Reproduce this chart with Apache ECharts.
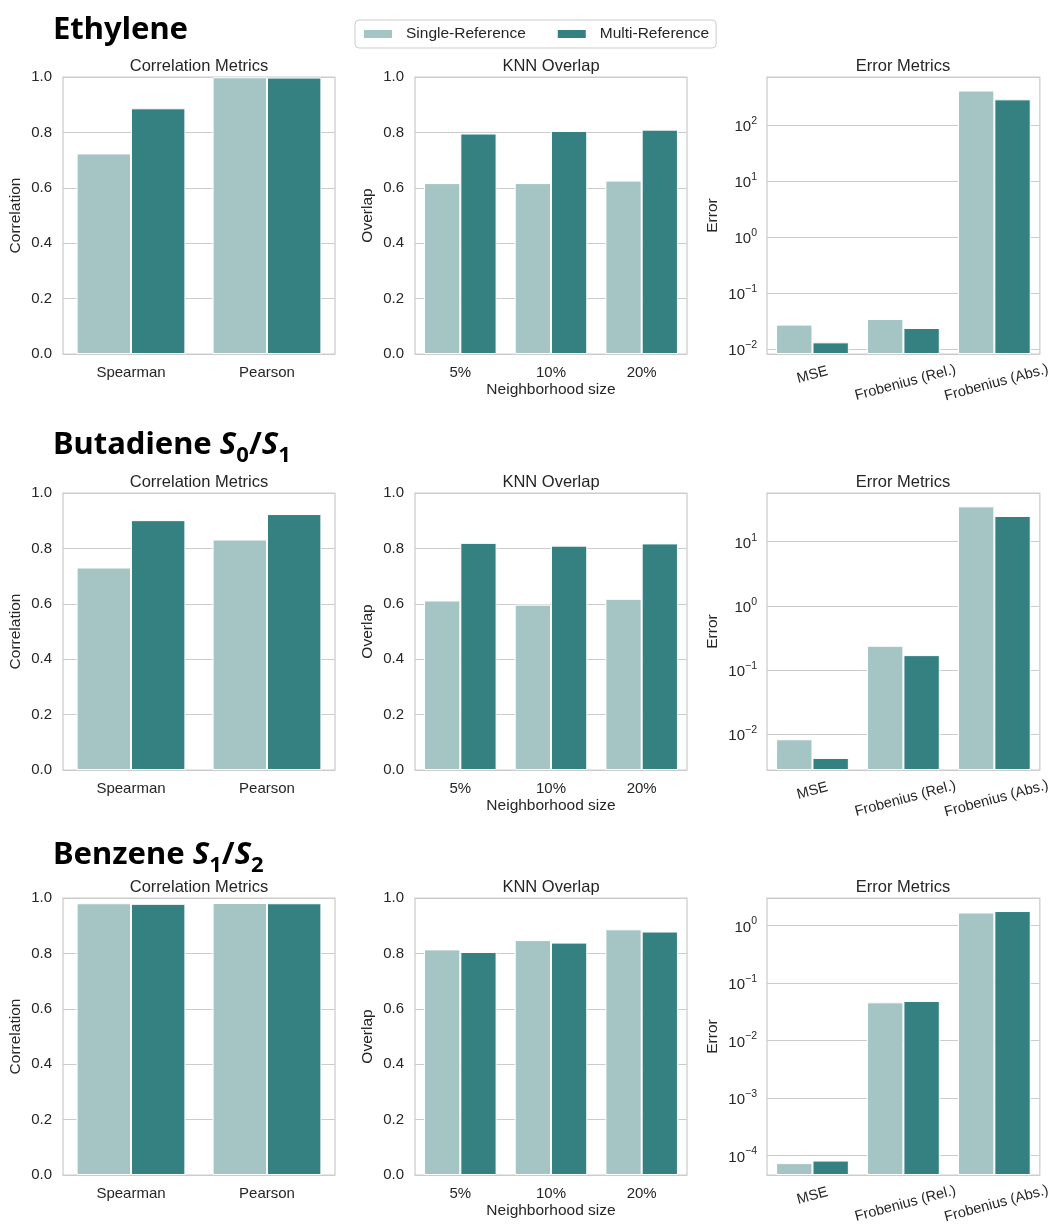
<!DOCTYPE html>
<html>
<head>
<meta charset="utf-8">
<script src="https://cdn.jsdelivr.net/npm/echarts@6/dist/echarts.min.js"></script>
<style>
  html, body { margin: 0; padding: 0; background: #fff; }
  #chart { width: 1053px; height: 1228px; }
</style>
</head>
<body>
<div id="chart"></div>
<script>
const seriesNames = ["Single-Reference", "Multi-Reference"];
const corrCategories = ["Spearman", "Pearson"];
const knnCategories = ["5%", "10%", "20%"];
const errCategories = ["MSE", "Frobenius (Rel.)", "Frobenius (Abs.)"];

// Ethylene
const ethCorrSingle = [0.724, 0.999];
const ethCorrMulti = [0.887, 0.998];
const ethKnnSingle = [0.617, 0.617, 0.626];
const ethKnnMulti = [0.796, 0.805, 0.810];
const ethErrSingle = [0.0276, 0.0347, 417];
const ethErrMulti = [0.0133, 0.024, 291];
const ethErrRange = [0.00824, 729];

// Butadiene S0/S1
const butCorrSingle = [0.731, 0.832];
const butCorrMulti = [0.902, 0.924];
const butKnnSingle = [0.612, 0.597, 0.618];
const butKnnMulti = [0.820, 0.810, 0.818];
const butErrSingle = [0.00835, 0.239, 35.6];
const butErrMulti = [0.00427, 0.171, 25.2];
const butErrRange = [0.00277, 57.5];

// Benzene S1/S2
const benCorrSingle = [0.981, 0.982];
const benCorrMulti = [0.979, 0.981];
const benKnnSingle = [0.8145, 0.848, 0.887];
const benKnnMulti = [0.805, 0.839, 0.879];
const benErrSingle = [0.000074, 0.0461, 1.68];
const benErrMulti = [0.000082, 0.0487, 1.78];
const benErrRange = [0.000046, 3.0];

const colors = ["#a5c4c4", "#358080"];
const ink = "#262626";
const edge = "#cccccc";
const font = "Liberation Sans";

const rows = [
  { top: 77, title: "{b|Ethylene}", baseY: 52,
    corr: [ethCorrSingle, ethCorrMulti], knn: [ethKnnSingle, ethKnnMulti],
    err: [ethErrSingle, ethErrMulti], range: ethErrRange },
  { top: 493, title: "{b|Butadiene }{i|S}{d|0}{b|/}{i|S}{d|1}", baseY: 467,
    corr: [butCorrSingle, butCorrMulti], knn: [butKnnSingle, butKnnMulti],
    err: [butErrSingle, butErrMulti], range: butErrRange },
  { top: 898, title: "{b|Benzene }{i|S}{d|1}{b|/}{i|S}{d|2}", baseY: 877,
    corr: [benCorrSingle, benCorrMulti], knn: [benKnnSingle, benKnnMulti],
    err: [benErrSingle, benErrMulti], range: benErrRange }
];
const colLeft = [63, 415, 767];
const plotW = 272;
const plotH = 277;
const titleSize = 31;

function logLabel(v) {
  const e = Math.log10(v);
  const n = Math.round(e);
  if (Math.abs(e - n) > 1e-6) return "";
  return "{b|10}{s|" + (n < 0 ? "\u2212" + (-n) : n) + "}";
}

const grid = [], xAxis = [], yAxis = [], series = [], graphic = [];

rows.forEach((row, r) => {
  graphic.push({
    type: "text", x: 53, y: row.baseY,
    style: {
      text: row.title, verticalAlign: "bottom",
      rich: {
        b: { fontFamily: "Noto Sans", fontWeight: "bold", fontSize: titleSize, color: "#000", padding: [0, 0, 6, 0], verticalAlign: "bottom" },
        i: { fontFamily: "Noto Sans", fontWeight: "bold", fontStyle: "italic", fontSize: titleSize, color: "#000", padding: [0, 0, 6, 0], verticalAlign: "bottom" },
        d: { fontFamily: "Noto Sans", fontWeight: "bold", fontSize: Math.round(titleSize * 0.7), color: "#000", verticalAlign: "bottom" }
      }
    }
  });

  const panels = [
    { name: "Correlation Metrics", yName: "Correlation", cats: corrCategories, data: row.corr },
    { name: "KNN Overlap", yName: "Overlap", xName: "Neighborhood size", cats: knnCategories, data: row.knn },
    { name: "Error Metrics", yName: "Error", cats: errCategories, data: row.err, log: true }
  ];

  panels.forEach((p, c) => {
    const gi = grid.length;
    grid.push({
      left: colLeft[c], top: row.top, width: plotW + (c === 2 ? 1 : 0), height: plotH,
      show: true, borderColor: edge, borderWidth: 1.25, backgroundColor: "#fff"
    });
    graphic.push({
      type: "text", x: colLeft[c] + plotW / 2, y: row.top - 11,
      style: { text: p.name, fontFamily: font, fontSize: 16.5, fill: ink, align: "center", verticalAlign: "middle" }
    });
    xAxis.push({
      type: "category", gridIndex: gi, data: p.cats,
      axisLine: { show: false }, axisTick: { show: false },
      axisLabel: p.log ? {
        rotate: 15, align: "center", verticalAlign: "middle", margin: 21,
        color: ink, fontFamily: font, fontSize: 14.5, interval: 0,
        formatter: v => v === "MSE" ? v : "{f|" + v + "}",
        rich: { f: { fontFamily: font, fontSize: 14.5, color: ink, padding: [16, 0, 0, 0] } }
      } : { color: ink, fontFamily: font, fontSize: 15, margin: 11, interval: 0 },
      name: p.xName || "", nameLocation: "middle", nameGap: 28,
      nameTextStyle: { color: ink, fontFamily: font, fontSize: 15.5 }
    });
    const yBase = {
      gridIndex: gi, name: p.yName, nameLocation: "middle",
      nameTextStyle: { color: ink, fontFamily: font, fontSize: 15.5 },
      axisLine: { show: false }, axisTick: { show: false },
      splitLine: { show: true, lineStyle: { color: edge, width: 1 } }
    };
    if (p.log) {
      yAxis.push(Object.assign(yBase, {
        type: "log", logBase: 10, min: row.range[0], max: row.range[1], startValue: row.range[0],
        nameGap: 46,
        axisLabel: {
          color: ink, margin: 10, formatter: logLabel,
          rich: {
            b: { fontFamily: font, fontSize: 15, color: ink, verticalAlign: "bottom" },
            s: { fontFamily: font, fontSize: 10.5, color: ink, padding: [0, 0, 8, 0], verticalAlign: "bottom" }
          }
        }
      }));
    } else {
      yAxis.push(Object.assign(yBase, {
        type: "value", min: 0, max: 1, interval: 0.2, nameGap: 39,
        axisLabel: { color: ink, fontFamily: font, fontSize: 15, margin: 11, formatter: v => v.toFixed(1) }
      }));
    }
    p.data.forEach((vals, s) => {
      series.push({
        type: "bar", name: seriesNames[s], xAxisIndex: gi, yAxisIndex: gi,
        data: vals, barGap: "0%", barCategoryGap: "20%",
        itemStyle: { color: colors[s], borderColor: "#fff", borderWidth: 1 },
        emphasis: { disabled: true }
      });
    });
  });
});

const chart = echarts.init(document.getElementById("chart"), null, { renderer: "canvas" });
chart.setOption({
  animation: false,
  textStyle: { fontFamily: font, color: ink },
  color: colors,
  legend: {
    data: seriesNames, left: 355, top: 20, padding: [6, 7, 6, 7],
    itemWidth: 30, itemHeight: 10, itemGap: 30, icon: "rect",
    borderColor: edge, borderWidth: 1, borderRadius: 4,
    textStyle: { color: ink, fontFamily: font, fontSize: 15.5, padding: [0, 0, 0, 8] }
  },
  grid, xAxis, yAxis, series, graphic
});
</script>
</body>
</html>
